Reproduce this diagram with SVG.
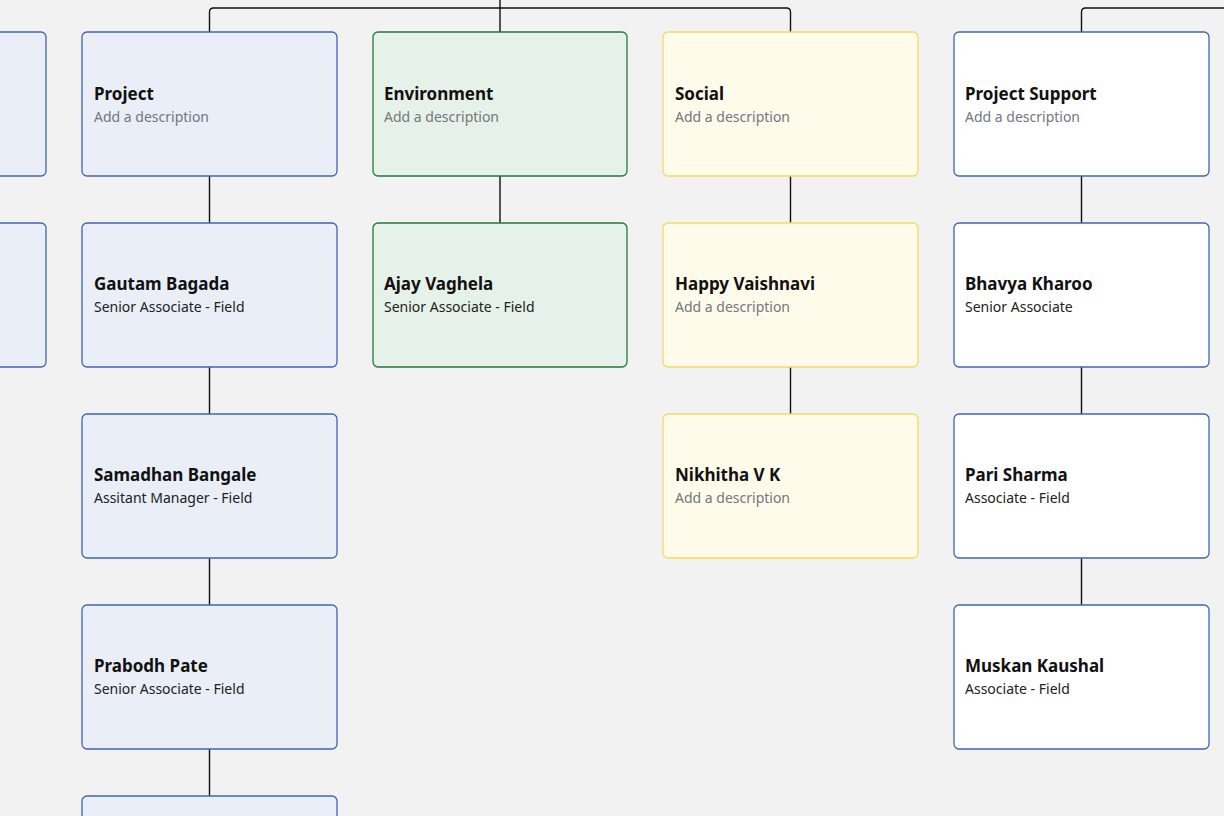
<svg xmlns="http://www.w3.org/2000/svg" width="1224" height="816" viewBox="0 0 1224 816">
<defs>
<style>
.bg{fill:#f2f2f2}
.box{stroke-width:1.3}
.blue{fill:#e9eef7;stroke:#3f66b3}
.green{fill:#e6f1e9;stroke:#217a3a}
.yellow{fill:#fffbeb;stroke:#f5d961}
.white{fill:#ffffff;stroke:#3f66b3}
.t{font-family:"Noto Sans","Open Sans","DejaVu Sans",sans-serif;font-size:17px;font-weight:bold;fill:#111111}
.d{font-family:"Noto Sans","Open Sans","DejaVu Sans",sans-serif;font-size:14px;fill:#737780}
.s{font-family:"Noto Sans","Open Sans","DejaVu Sans",sans-serif;font-size:14px;fill:#222222}
.c{fill:none;stroke:#111111;stroke-width:1.4}
</style>
</defs>
<rect class="bg" x="0" y="0" width="1224" height="816"/>
<g id="connectors">
<path class="c" d="M209.5,32 V12 Q209.5,8 213.5,8 H786.5 Q790.5,8 790.5,12 V32"/>
<path class="c" d="M500,0 V32"/>
<path class="c" d="M1081.5,32 V12 Q1081.5,8 1085.5,8 H1224"/>
<path class="c" d="M209.5,176 V223 M209.5,367 V414 M209.5,558 V605 M209.5,749 V796"/>
<path class="c" d="M500,176 V223"/>
<path class="c" d="M790.5,176 V223 M790.5,367 V414"/>
<path class="c" d="M1081.5,176 V223 M1081.5,367 V414 M1081.5,558 V605"/>
</g>
<g id="left-1"><rect class="box blue" x="-209" y="32" width="255" height="144" rx="5"/></g>
<g id="left-2"><rect class="box blue" x="-209" y="223" width="255" height="144" rx="5"/></g>
<g id="project"><rect class="box blue" x="82" y="32" width="255" height="144" rx="5"/>
<text class="t" x="94" y="100">Project</text><text class="d" x="94" y="122">Add a description</text></g>
<g id="gautam"><rect class="box blue" x="82" y="223" width="255" height="144" rx="5"/>
<text class="t" x="94" y="290">Gautam Bagada</text><text class="s" x="94" y="312">Senior Associate - Field</text></g>
<g id="samadhan"><rect class="box blue" x="82" y="414" width="255" height="144" rx="5"/>
<text class="t" x="94" y="481">Samadhan Bangale</text><text class="s" x="94" y="503">Assitant Manager - Field</text></g>
<g id="prabodh"><rect class="box blue" x="82" y="605" width="255" height="144" rx="5"/>
<text class="t" x="94" y="672">Prabodh Pate</text><text class="s" x="94" y="694">Senior Associate - Field</text></g>
<g id="project-5"><rect class="box blue" x="82" y="796" width="255" height="144" rx="5"/></g>
<g id="environment"><rect class="box green" x="373" y="32" width="254" height="144" rx="5"/>
<text class="t" x="384" y="100">Environment</text><text class="d" x="384" y="122">Add a description</text></g>
<g id="ajay"><rect class="box green" x="373" y="223" width="254" height="144" rx="5"/>
<text class="t" x="384" y="290">Ajay Vaghela</text><text class="s" x="384" y="312">Senior Associate - Field</text></g>
<g id="social"><rect class="box yellow" x="663" y="32" width="255" height="144" rx="5"/>
<text class="t" x="675" y="100">Social</text><text class="d" x="675" y="122">Add a description</text></g>
<g id="happy"><rect class="box yellow" x="663" y="223" width="255" height="144" rx="5"/>
<text class="t" x="675" y="290">Happy Vaishnavi</text><text class="d" x="675" y="312">Add a description</text></g>
<g id="nikhitha"><rect class="box yellow" x="663" y="414" width="255" height="144" rx="5"/>
<text class="t" x="675" y="481">Nikhitha V K</text><text class="d" x="675" y="503">Add a description</text></g>
<g id="project-support"><rect class="box white" x="954" y="32" width="255" height="144" rx="5"/>
<text class="t" x="965" y="100">Project Support</text><text class="d" x="965" y="122">Add a description</text></g>
<g id="bhavya"><rect class="box white" x="954" y="223" width="255" height="144" rx="5"/>
<text class="t" x="965" y="290">Bhavya Kharoo</text><text class="s" x="965" y="312">Senior Associate</text></g>
<g id="pari"><rect class="box white" x="954" y="414" width="255" height="144" rx="5"/>
<text class="t" x="965" y="481">Pari Sharma</text><text class="s" x="965" y="503">Associate - Field</text></g>
<g id="muskan"><rect class="box white" x="954" y="605" width="255" height="144" rx="5"/>
<text class="t" x="965" y="672">Muskan Kaushal</text><text class="s" x="965" y="694">Associate - Field</text></g>
</svg>
